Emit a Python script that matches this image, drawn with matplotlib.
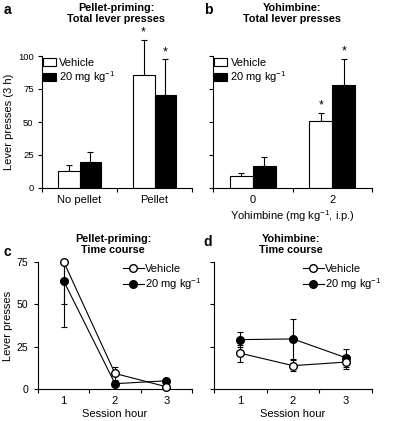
import matplotlib
matplotlib.use('Agg')
import matplotlib.pyplot as plt
from matplotlib.patches import Patch
from matplotlib.lines import Line2D

plt.rcParams['font.family'] = ['Liberation Sans', 'DejaVu Sans']
plt.rcParams['mathtext.fontset'] = 'custom'
plt.rcParams['mathtext.rm'] = 'Liberation Sans'
plt.rcParams['mathtext.it'] = 'Liberation Sans:italic'
plt.rcParams['mathtext.bf'] = 'Liberation Sans:bold'

# ---------------- data ----------------
series_names = ['Vehicle', '20 mg kg$^{-1}$']

groups_a = ['No pellet', 'Pellet']
veh_a = [13, 85.5]
veh_a_err = [4.5, 27]
drug_a = [20, 70.5]
drug_a_err = [7, 27]
star_veh_a = [False, True]
star_drug_a = [False, True]

groups_b = ['0', '2']
veh_b = [9, 51]
veh_b_err = [2.5, 6]
drug_b = [16.5, 78]
drug_b_err = [7, 20]
star_veh_b = [False, True]
star_drug_b = [False, True]

hours = [1, 2, 3]
veh_c = [75, 9.3, 1.5]
veh_c_err = [25, 4, 1]
drug_c = [63.7, 3.3, 5.0]
drug_c_err = [27, 1, 1]

veh_d = [21.2, 13.9, 16.0]
veh_d_err = [5, 3.2, 3.9]
drug_d = [29.2, 29.6, 18.6]
drug_d_err = [4.2, 11.7, 5.3]

bar_ticks = [0, 25, 50, 75, 100]
line_ticks = [0, 25, 50, 75]

# ---------------- figure ----------------
W, H = 400, 421
fig = plt.figure(figsize=(W / 100, H / 100), dpi=100)

def rect(l, r, top, bot):
    return [l / W, 1 - bot / H, (r - l) / W, (bot - top) / H]

ax_a = fig.add_axes(rect(42, 192, 56, 188))
ax_b = fig.add_axes(rect(213, 372, 56, 188))
ax_c = fig.add_axes(rect(38, 192, 261.7, 389.3))
ax_d = fig.add_axes(rect(214, 372, 261.7, 389.3))

FS = 8
TFS = 7.8
LW = 0.8

def style(ax, yfs, ypad):
    for s in ['top', 'right']:
        ax.spines[s].set_visible(False)
    for s in ['left', 'bottom']:
        ax.spines[s].set_linewidth(LW)
    ax.tick_params(axis='both', which='major', direction='out', length=3, width=LW)
    ax.tick_params(axis='y', which='major', labelsize=yfs, pad=ypad)
    ax.tick_params(axis='x', which='minor', length=0, labelsize=FS, pad=5)

def bars(ax, groups, veh, veh_err, drug, drug_err, sv, sd, show_ylabels):
    centers = [0.5, 1.5]
    w = 0.29
    xv = [c - w / 2 for c in centers]
    xd = [c + w / 2 for c in centers]
    ax.bar(xv, veh, width=w, color='white', edgecolor='black', linewidth=LW, zorder=2)
    ax.bar(xd, drug, width=w, color='black', edgecolor='black', linewidth=LW, zorder=2)
    ax.errorbar(xv, veh, yerr=[[0] * len(veh), veh_err], fmt='none', ecolor='black',
                elinewidth=LW, capsize=2.5, capthick=LW, clip_on=False, zorder=1)
    ax.errorbar(xd, drug, yerr=[[0] * len(drug), drug_err], fmt='none', ecolor='black',
                elinewidth=LW, capsize=2.5, capthick=LW, clip_on=False, zorder=1)
    for x, v, e, s in zip(xv, veh, veh_err, sv):
        if s:
            ax.text(x, v + e + 1, '*', ha='center', va='bottom', fontsize=9, clip_on=False)
    for x, v, e, s in zip(xd, drug, drug_err, sd):
        if s:
            ax.text(x, v + e + 1, '*', ha='center', va='bottom', fontsize=9, clip_on=False)
    ax.set_xlim(0, 2)
    ax.set_ylim(0, 100)
    ax.set_xticks([0, 1, 2])
    ax.set_xticklabels([])
    ax.set_xticks(centers, minor=True)
    ax.set_xticklabels(groups, minor=True, fontsize=FS)
    ax.set_yticks(bar_ticks)
    if not show_ylabels:
        ax.set_yticklabels([])
    style(ax, 6.8, 3)
    handles = [Patch(facecolor='white', edgecolor='black', linewidth=LW),
               Patch(facecolor='black', edgecolor='black', linewidth=LW)]
    ax.legend(handles, series_names, loc='upper left', bbox_to_anchor=(0.005, 0.985),
              frameon=False, fontsize=FS, handlelength=1.2, handleheight=0.7,
              handletextpad=0.3, labelspacing=0.12, borderpad=0, borderaxespad=0)

def lines(ax, veh, veh_err, drug, drug_err, show_ylabels):
    ax.errorbar(hours, veh, yerr=veh_err, fmt='-o', color='black', mfc='white',
                mec='black', ms=5.5, lw=LW, elinewidth=LW, capsize=2.5, capthick=LW,
                zorder=3)
    ax.errorbar(hours, drug, yerr=drug_err, fmt='-o', color='black', mfc='black',
                mec='black', ms=5.5, lw=LW, elinewidth=LW, capsize=2.5, capthick=LW,
                zorder=2)
    ax.set_xlim(0.5, 3.5)
    ax.set_ylim(0, 75)
    ax.set_xticks([0.5, 1.5, 2.5, 3.5])
    ax.set_xticklabels([])
    ax.set_xticks(hours, minor=True)
    ax.set_xticklabels([str(h) for h in hours], minor=True, fontsize=FS)
    ax.set_yticks(line_ticks)
    if not show_ylabels:
        ax.set_yticklabels([])
    style(ax, 7.6, 4)
    for ln in ax.lines:
        if ln.get_marker() == 'o':
            ln.set_clip_on(False)
    handles = [Line2D([], [], color='black', lw=LW, marker='o', mfc='white', mec='black', ms=5.5),
               Line2D([], [], color='black', lw=LW, marker='o', mfc='black', mec='black', ms=5.5)]
    ax.legend(handles, series_names, loc='upper right', bbox_to_anchor=(1.06, 0.985),
              frameon=False, fontsize=FS, handlelength=1.9, handletextpad=0.1,
              labelspacing=0.25, borderpad=0, borderaxespad=0)

bars(ax_a, groups_a, veh_a, veh_a_err, drug_a, drug_a_err, star_veh_a, star_drug_a, True)
bars(ax_b, groups_b, veh_b, veh_b_err, drug_b, drug_b_err, star_veh_b, star_drug_b, False)
lines(ax_c, veh_c, veh_c_err, drug_c, drug_c_err, True)
lines(ax_d, veh_d, veh_d_err, drug_d, drug_d_err, False)

ax_a.set_ylabel('Lever presses (3 h)', fontsize=FS)
ax_a.yaxis.set_label_coords(-0.185, 0.5)
ax_c.set_ylabel('Lever presses', fontsize=FS)
ax_c.yaxis.set_label_coords(-0.16, 0.5)
ax_b.set_xlabel('Yohimbine (mg kg$^{-1}$, i.p.)', fontsize=FS, labelpad=2)
ax_c.set_xlabel('Session hour', fontsize=FS, labelpad=2)
ax_d.set_xlabel('Session hour', fontsize=FS, labelpad=2)

def ftext(x, y, s, **kw):
    fig.text(x / W, 1 - y / H, s, **kw)

ftext(4, 10, 'a', fontsize=10, fontweight='bold', va='center', ha='left')
ftext(204, 10, 'b', fontsize=10, fontweight='bold', va='center', ha='left')
ftext(4, 252, 'c', fontsize=10, fontweight='bold', va='center', ha='left')
ftext(203, 242, 'd', fontsize=10, fontweight='bold', va='center', ha='left')

ftext(116, 13.5, 'Pellet-priming:\nTotal lever presses', fontsize=TFS, fontweight='bold',
      ha='center', va='center', linespacing=1.2)
ftext(292, 13.5, 'Yohimbine:\nTotal lever presses', fontsize=TFS, fontweight='bold',
      ha='center', va='center', linespacing=1.2)
ftext(113, 244.5, 'Pellet-priming:\nTime course', fontsize=TFS, fontweight='bold',
      ha='center', va='center', linespacing=1.2)
ftext(291, 244.5, 'Yohimbine:\nTime course', fontsize=TFS, fontweight='bold',
      ha='center', va='center', linespacing=1.2)

fig.savefig('out.png', dpi=100)
